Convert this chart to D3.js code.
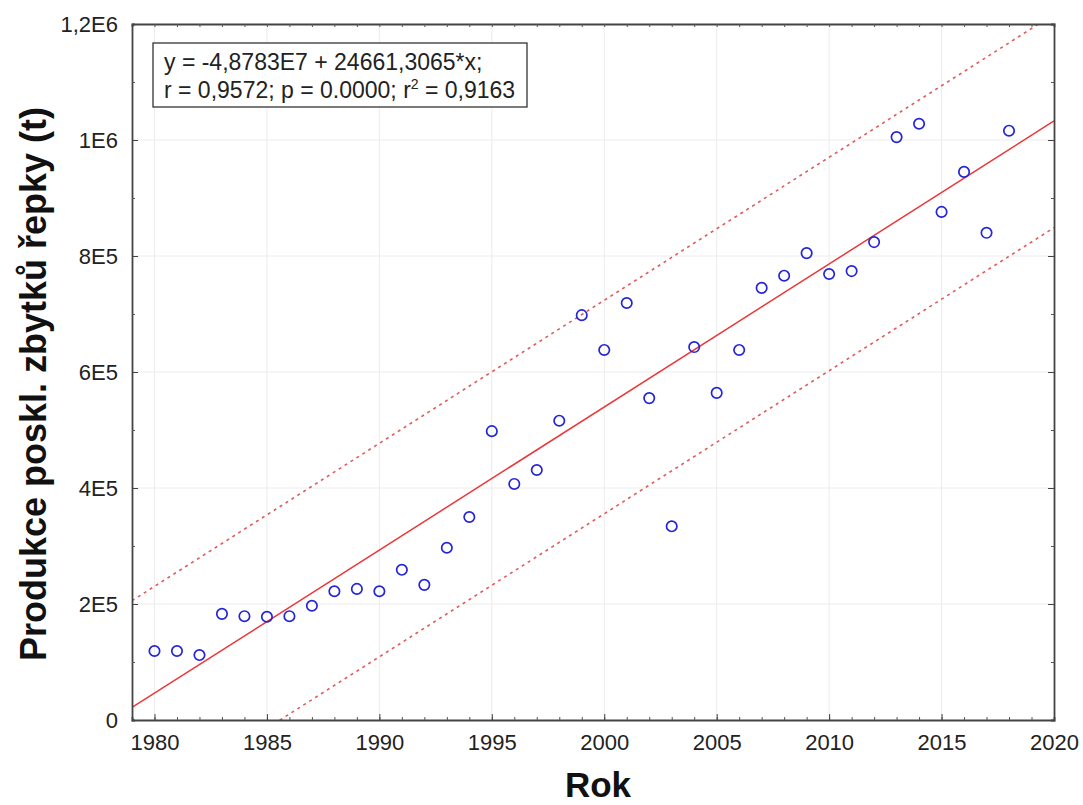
<!DOCTYPE html>
<html>
<head>
<meta charset="utf-8">
<script src="https://cdn.jsdelivr.net/npm/d3@7"></script>
<style>
  html, body { margin: 0; padding: 0; background: #fff; }
  svg { display: block; font-family: Arial, "Liberation Sans", sans-serif; }
</style>
</head>
<body>
<svg id="chart" width="1083" height="805"></svg>
<script>
// ---- data ----
const years = [1980,1981,1982,1983,1984,1985,1986,1987,1988,1989,1990,1991,1992,1993,1994,1995,1996,1997,1998,1999,2000,2001,2002,2003,2004,2005,2006,2007,2008,2009,2010,2011,2012,2013,2014,2015,2016,2017,2018];
const production = [119000,119000,112000,183000,179000,178000,179000,197000,222000,226000,222000,259000,233000,297000,350000,498000,407000,431000,516000,698000,638000,719000,555000,334000,643000,564000,638000,745000,766000,805000,769000,774000,824000,1005000,1028000,876000,945000,840000,1016000];
const intercept = -4.8783e7;
const slope = 24661.3065;
const bandOffset = 184000;
const xTicks = [1980,1985,1990,1995,2000,2005,2010,2015,2020];
const yTicks = [0,200000,400000,600000,800000,1000000,1200000];
const yTickLabels = ["0","2E5","4E5","6E5","8E5","1E6","1,2E6"];
const xDomain = [1979, 2020];
const yDomain = [0, 1200000];
const xTitle = "Rok";
const yTitle = "Produkce poskl. zbytků řepky (t)";
const eqLine1 = "y = -4,8783E7 + 24661,3065*x;";

// ---- layout ----
const L = 132, R = 1054, T = 24, B = 720;
const FONT = "Arial, 'Liberation Sans', sans-serif";
const svg = d3.select("#chart");
const x = d3.scaleLinear().domain(xDomain).range([L, R]);
const y = d3.scaleLinear().domain(yDomain).range([B, T]);

// grid
const grid = svg.append("g");
grid.selectAll("line.vx").data(xTicks.filter(d => d > xDomain[0] && d < xDomain[1]))
  .join("line").attr("x1", d => x(d)).attr("x2", d => x(d)).attr("y1", T).attr("y2", B)
  .attr("stroke", "#ececec").attr("stroke-width", 1);
grid.selectAll("line.hy").data(yTicks.filter(d => d > yDomain[0] && d < yDomain[1]))
  .join("line").attr("x1", L).attr("x2", R).attr("y1", d => y(d)).attr("y2", d => y(d))
  .attr("stroke", "#ececec").attr("stroke-width", 1);

// clip
svg.append("clipPath").attr("id", "clip").append("rect")
  .attr("x", L).attr("y", T).attr("width", R - L).attr("height", B - T);
const plot = svg.append("g").attr("clip-path", "url(#clip)");

const lineFn = (off) => [[xDomain[0], intercept + slope * xDomain[0] + off], [xDomain[1], intercept + slope * xDomain[1] + off]];
const line = d3.line().x(d => x(d[0])).y(d => y(d[1]));

plot.append("path").attr("d", line(lineFn(bandOffset))).attr("fill", "none")
  .attr("stroke", "#e05a5a").attr("stroke-width", 1.6).attr("stroke-dasharray", "3,4");
plot.append("path").attr("d", line(lineFn(-bandOffset))).attr("fill", "none")
  .attr("stroke", "#e05a5a").attr("stroke-width", 1.6).attr("stroke-dasharray", "3,4");
plot.append("path").attr("d", line(lineFn(0))).attr("fill", "none")
  .attr("stroke", "#e8383a").attr("stroke-width", 1.5);

// points
svg.append("g").selectAll("circle").data(years.map((yr, i) => [yr, production[i]]))
  .join("circle").attr("cx", d => x(d[0])).attr("cy", d => y(d[1])).attr("r", 5.2)
  .attr("fill", "none").attr("stroke", "#2424d8").attr("stroke-width", 1.7);

// axes (ticks inward)
const minorX = d3.range(xDomain[0], xDomain[1] + 1, 1);
const minorY = d3.range(yDomain[0], yDomain[1] + 1, 100000);
const axB = d3.axisBottom(x).tickValues(minorX).tickSize(-3).tickFormat("");
const axT = d3.axisTop(x).tickValues(minorX).tickSize(-3).tickFormat("");
const axL = d3.axisLeft(y).tickValues(minorY).tickSize(-3).tickFormat("");
const axR = d3.axisRight(y).tickValues(minorY).tickSize(-3).tickFormat("");
function styleAx(g) { g.selectAll("path").attr("stroke", "#444").attr("stroke-width", 1.8); g.selectAll("line").attr("stroke", "#555"); }
svg.append("g").attr("transform", `translate(0,${B})`).call(axB).call(styleAx);
svg.append("g").attr("transform", `translate(0,${T})`).call(axT).call(styleAx);
svg.append("g").attr("transform", `translate(${L},0)`).call(axL).call(styleAx);
svg.append("g").attr("transform", `translate(${R},0)`).call(axR).call(styleAx);
// major ticks + labels
svg.append("g").attr("transform", `translate(0,${B})`)
  .call(d3.axisBottom(x).tickValues(xTicks).tickSize(-6).tickPadding(14).tickFormat(d3.format("d")))
  .call(g => { g.select("path").remove(); g.selectAll("line").attr("stroke", "#444");
    g.selectAll("text").attr("font-size", 22).attr("fill", "#222").attr("font-family", FONT); });
svg.append("g").attr("transform", `translate(${L},0)`)
  .call(d3.axisLeft(y).tickValues(yTicks).tickSize(-6).tickPadding(14).tickFormat((d, i) => yTickLabels[i]))
  .call(g => { g.select("path").remove(); g.selectAll("line").attr("stroke", "#444");
    g.selectAll("text").attr("font-size", 22).attr("fill", "#222").attr("font-family", FONT); });
svg.append("g").attr("transform", `translate(${R},0)`)
  .call(d3.axisRight(y).tickValues(yTicks).tickSize(-6).tickFormat(""))
  .call(g => { g.select("path").remove(); g.selectAll("line").attr("stroke", "#444"); });

// equation box
svg.append("rect").attr("x", 153).attr("y", 43).attr("width", 374).attr("height", 64)
  .attr("fill", "#fff").attr("stroke", "#333").attr("stroke-width", 1.3);
svg.append("text").attr("x", 164).attr("y", 70).attr("font-size", 23).attr("fill", "#222").text(eqLine1);
const t2 = svg.append("text").attr("x", 164).attr("y", 98).attr("font-size", 23).attr("fill", "#222");
t2.append("tspan").text("r = 0,9572; p = 0.0000; r");
t2.append("tspan").attr("font-size", 14).attr("dy", -9).text("2");
t2.append("tspan").attr("dy", 9).text(" = 0,9163");

// axis titles
svg.append("text").attr("x", 598).attr("y", 797).attr("text-anchor", "middle")
  .attr("font-size", 35).attr("font-weight", "bold").attr("fill", "#111").text(xTitle);
svg.append("text").attr("transform", `translate(46,384) rotate(-90)`).attr("text-anchor", "middle")
  .attr("font-size", 36).attr("font-weight", "bold").attr("fill", "#111").text(yTitle);
</script>
</body>
</html>
